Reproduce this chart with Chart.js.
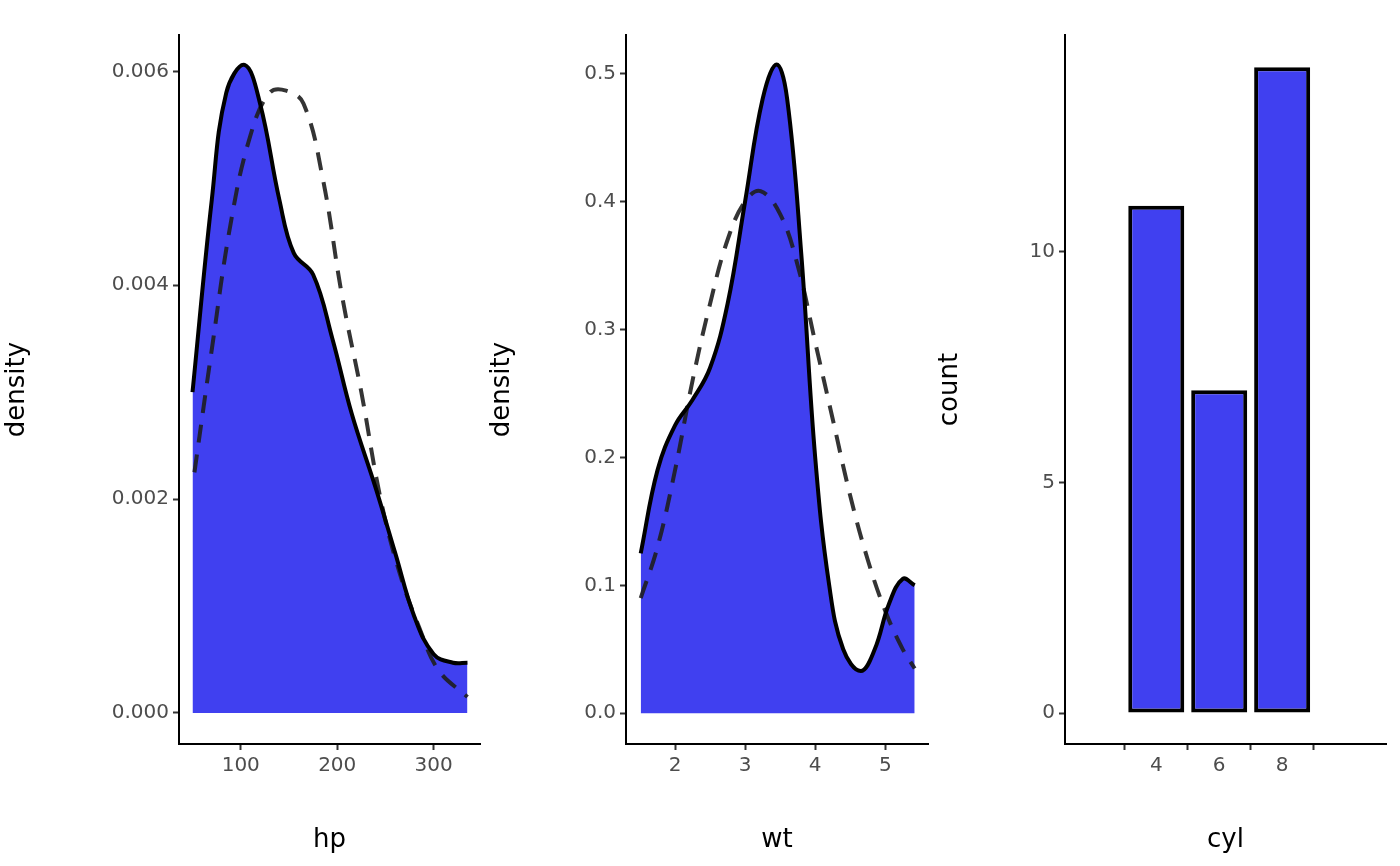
<!DOCTYPE html>
<html>
<head>
<meta charset="utf-8">
<script src="https://cdn.jsdelivr.net/npm/chart.js@4"></script>
<style>
  body { margin: 0; background: #fff; }
  canvas { position: absolute; top: 0; }
</style>
</head>
<body>
<canvas id="c1" style="left:0px" width="485" height="866"></canvas>
<canvas id="c2" style="left:485px" width="448" height="866"></canvas>
<canvas id="c3" style="left:933px" width="467" height="866"></canvas>
<script>
// hp density (solid) and normal fit (dashed)
const hpX     = [50, 70, 85, 104, 120, 140, 155, 175, 195, 215, 240, 260, 280, 300, 320, 335];
const hpDens  = [0.0030, 0.0048, 0.0058, 0.00606, 0.0057, 0.0048, 0.0043, 0.0041, 0.0035, 0.0028, 0.0021, 0.0015, 0.0009, 0.00055, 0.00047, 0.00047];
const hpNormX = [52, 70, 90, 110, 130, 147, 165, 185, 205, 225, 245, 265, 285, 305, 335];
const hpNorm  = [0.00225, 0.0034, 0.0046, 0.0054, 0.0058, 0.00582, 0.0057, 0.0050, 0.0039, 0.0030, 0.0020, 0.0013, 0.0008, 0.0004, 0.00015];
const hpTicks = [100, 200, 300];
const hpYTicks = [0, 0.002, 0.004, 0.006];

// wt density (solid) and normal fit (dashed)
const wtX     = [1.51, 1.75, 2.0, 2.25, 2.5, 2.75, 3.0, 3.25, 3.45, 3.6, 3.8, 4.0, 4.2, 4.4, 4.65, 4.85, 5.05, 5.25, 5.42];
const wtDens  = [0.125, 0.19, 0.225, 0.245, 0.27, 0.32, 0.40, 0.48, 0.507, 0.48, 0.36, 0.20, 0.10, 0.05, 0.033, 0.05, 0.085, 0.105, 0.10];
const wtNormX = [1.51, 1.75, 2.0, 2.25, 2.5, 2.75, 3.0, 3.22, 3.5, 3.75, 4.0, 4.25, 4.5, 4.75, 5.0, 5.25, 5.42];
const wtNorm  = [0.09, 0.13, 0.19, 0.26, 0.32, 0.37, 0.40, 0.408, 0.39, 0.35, 0.29, 0.23, 0.17, 0.12, 0.08, 0.05, 0.035];
const wtTicks = [2, 3, 4, 5];
const wtYTicks = [0, 0.1, 0.2, 0.3, 0.4, 0.5];

// cyl counts
const cylCats   = [4, 6, 8];
const cylCounts = [11, 7, 14];
const cylYTicks = [0, 5, 10];

Chart.defaults.font.family = 'DejaVu Sans';
Chart.defaults.animation = false;

const BLUE = '#4040F0';
const pts = (xs, ys) => xs.map((x, i) => ({ x, y: ys[i] }));

const axis = (o) => ({
    type: 'linear',
    min: o.min, max: o.max,
    afterBuildTicks: s => { s.ticks = o.ticks.map(v => ({ value: v })); },
    afterFit: s => { if (o.w) s.width = o.w; if (o.h) s.height = o.h; },
    grid: { drawOnChartArea: false, drawTicks: true, tickLength: 6, tickWidth: 2, tickColor: '#333' },
    border: { display: true, color: '#000', width: 2 },
    ticks: { color: '#4d4d4d', font: { size: 20 }, padding: 4, callback: o.fmt || (v => v) },
    title: { display: true, text: o.title, color: '#000', font: { size: 26 }, padding: { top: 2, bottom: 10 } }
});

const baseOpts = (x, y, right) => ({
    responsive: false,
    layout: { padding: { top: 35, right: right || 5, left: 0, bottom: 0 } },
    plugins: { legend: { display: false }, tooltip: { enabled: false } },
    scales: { x, y }
});

function densityChart(id, xs, ys, nx, ny, xo, yo) {
    new Chart(document.getElementById(id), {
        type: 'line',
        data: {
            datasets: [
                { data: pts(xs, ys), borderColor: 'rgba(0,0,0,0)', backgroundColor: BLUE, fill: 'origin', pointRadius: 0, tension: 0.4, order: 3 },
                { data: pts(nx, ny), borderColor: 'rgba(30,30,30,0.9)', borderWidth: 4, borderDash: [18, 12], fill: false, pointRadius: 0, tension: 0.4, order: 2 },
                { data: pts(xs, ys), borderColor: '#000', borderWidth: 4, fill: false, pointRadius: 0, tension: 0.4, order: 1 }
            ]
        },
        options: baseOpts(axis(xo), axis(yo))
    });
}

densityChart('c1', hpX, hpDens, hpNormX, hpNorm,
    { min: 36, max: 348, ticks: hpTicks, title: 'hp', h: 122 },
    { min: -0.00029, max: 0.00634, ticks: hpYTicks, title: 'density', w: 179, fmt: v => v.toFixed(3) });

densityChart('c2', wtX, wtDens, wtNormX, wtNorm,
    { min: 1.3, max: 5.61, ticks: wtTicks, title: 'wt', h: 122 },
    { min: -0.024, max: 0.53, ticks: wtYTicks, title: 'density', w: 141, fmt: v => v.toFixed(1) });

new Chart(document.getElementById('c3'), {
    type: 'bar',
    data: {
        datasets: [{
            data: pts(cylCats, cylCounts),
            backgroundColor: BLUE, borderColor: '#000', borderWidth: 4, borderSkipped: false,
            barPercentage: 0.89, categoryPercentage: 1
        }]
    },
    options: baseOpts(
        axis({ min: 2.8, max: 9.6, ticks: cylCats, title: 'cyl', h: 122 }),
        axis({ min: -0.67, max: 14.7, ticks: cylYTicks, title: 'count', w: 132 }),
        14)
});
</script>
</body>
</html>
